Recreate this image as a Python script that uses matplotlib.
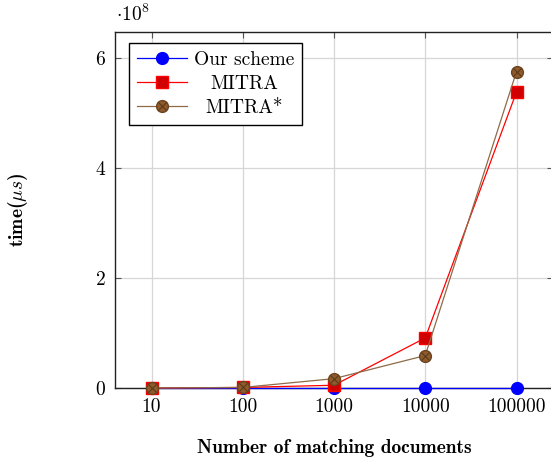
import matplotlib
matplotlib.use("Agg")
import matplotlib.pyplot as plt
from matplotlib.ticker import FuncFormatter, FixedLocator
from matplotlib.legend_handler import HandlerTuple
import numpy as np

plt.rcParams['font.family'] = ['cmr10', 'DejaVu Serif']
plt.rcParams['mathtext.fontset'] = 'cm'
plt.rcParams['axes.formatter.use_mathtext'] = True

categories = ["10", "100", "1000", "10000", "100000"]
docs = [10, 100, 1000, 10000, 100000]
our_scheme = [0.0, 0.0, 0.0, 0.0, 0.0]
mitra = [0.0, 0.01e8, 0.05e8, 0.91e8, 5.38e8]
mitra_star = [0.0, 0.01e8, 0.17e8, 0.59e8, 5.75e8]
yticks = [0, 2e8, 4e8, 6e8]

FS = 14

fig = plt.figure(figsize=(5.51, 4.62), dpi=100)
ax = fig.add_axes([115/551, 74/462, (553-115)/551, (388-32)/462])

ax.set_xscale('log')
ax.set_xlim(10**0.6, 10**5.4)
ax.set_ylim(0, 6.47e8)

l1, = ax.plot(docs, our_scheme, color='blue', lw=0.9, marker='o', ms=8.5,
              mfc='blue', mec='blue', clip_on=False, zorder=3)
l2, = ax.plot(docs, mitra, color='red', lw=0.9, marker='s', ms=8.5,
              mfc='#d00000', mec='red', clip_on=False, zorder=4)
l3, = ax.plot(docs, mitra_star, color='#8f6a48', lw=0.9, marker='o', ms=8.5,
              mfc='#8f5b2c', mec='#6b4420', clip_on=False, zorder=5)
l3x, = ax.plot(docs, mitra_star, ls='none', marker='x', ms=5.5, mec='#5a3a1a',
               mew=0.8, clip_on=False, zorder=6)

ax.xaxis.set_major_locator(FixedLocator(docs))
ax.xaxis.set_minor_locator(FixedLocator([]))
ax.set_xticklabels(categories)
ax.yaxis.set_major_locator(FixedLocator(yticks))
ax.yaxis.set_major_formatter(FuncFormatter(lambda v, p: f"{v/1e8:g}"))

ax.grid(True, color='#d6d6d6', lw=0.9)
ax.set_axisbelow(True)
ax.tick_params(direction='in', top=True, right=True, length=4, width=0.8,
               color='#555555', labelsize=FS, pad=7)
for s in ax.spines.values():
    s.set_linewidth(1.0)
    s.set_color('#222222')

fig.text(116/551, 1 - 14/462, r'$\cdot 10^8$', fontsize=FS, va='center', ha='left')

ax.set_xlabel('Number of matching documents', fontsize=FS, family='cmb10',
              labelpad=17)
ax.set_ylabel(r'time($\mu s$)', fontsize=FS, family='cmb10', labelpad=47)

leg = ax.legend([l1, l2, (l3, l3x)], ['Our scheme', 'MITRA', 'MITRA*'],
                handler_map={tuple: HandlerTuple(ndivide=1, pad=0)},
                loc='upper left', bbox_to_anchor=(14/438, 1 - 11/356),
                borderaxespad=0, fontsize=FS,
                frameon=True, fancybox=False, edgecolor='black', framealpha=1,
                handlelength=2.6, borderpad=0.4, labelspacing=0.32,
                handletextpad=0.35)
leg.get_frame().set_linewidth(1.0)

fig.canvas.draw()
renderer = fig.canvas.get_renderer()
texts = leg.get_texts()
widths = [t.get_window_extent(renderer).width for t in texts]
maxw = max(widths)
for t, w in zip(texts, widths):
    t.set_position(((maxw - w) / 2, 0))

fig.savefig('out.png', dpi=100)
